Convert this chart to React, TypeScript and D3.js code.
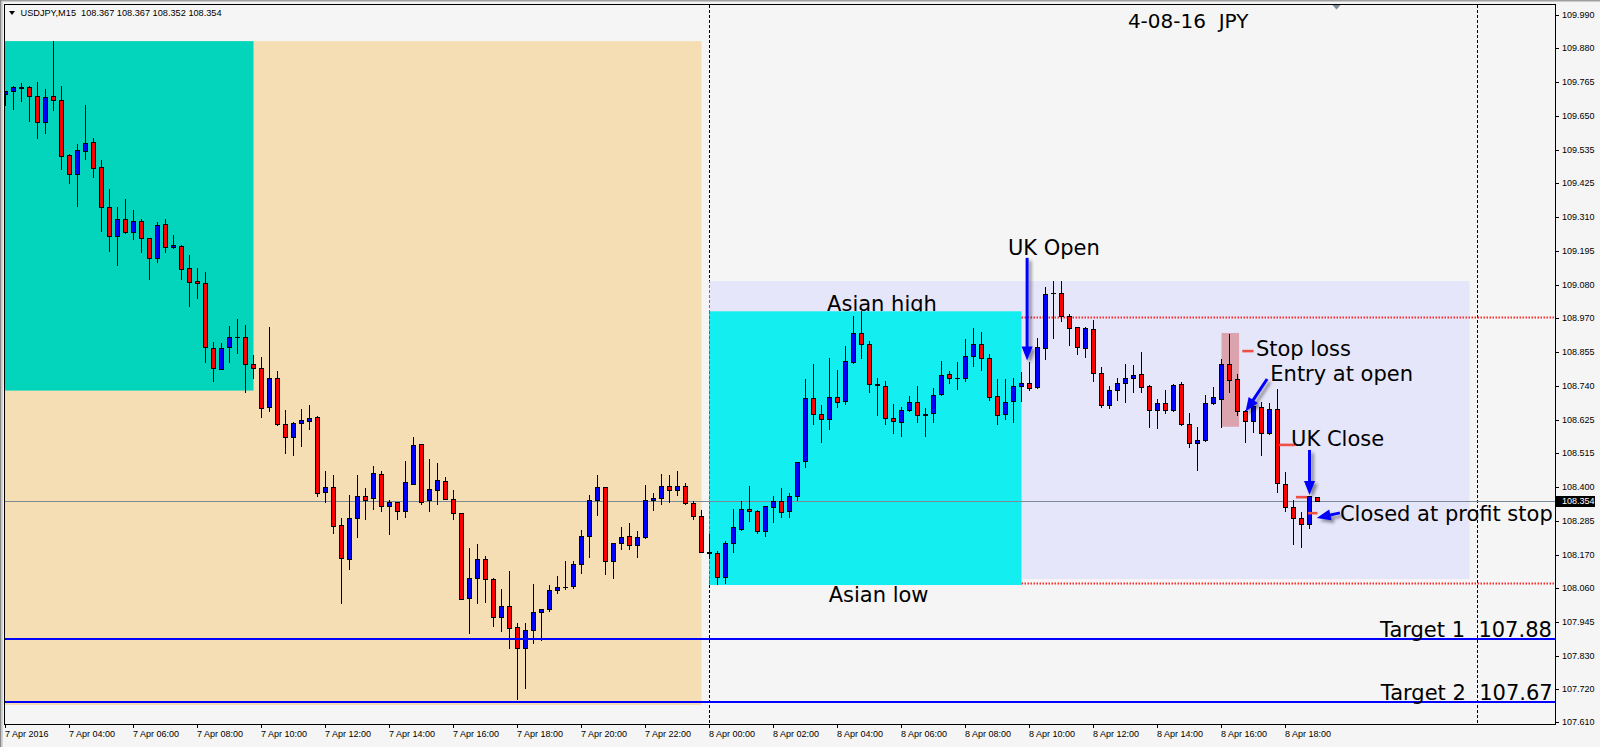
import React from "react";
import * as d3 from "d3";

// ---- data (USDJPY M15, 7 Apr 02:00 .. 8 Apr 19:00) ----
const opens = [109.723,109.733,109.746,109.747,109.716,109.629,109.717,109.703,109.517,109.453,
109.531,109.561,109.477,109.342,109.245,109.302,109.258,109.295,109.238,109.170,
109.285,109.207,109.211,109.137,109.093,109.086,108.867,108.797,108.871,108.904,
108.904,108.813,108.800,108.668,108.766,108.611,108.568,108.615,108.621,108.635,
108.382,108.399,108.271,108.157,108.295,108.369,108.362,108.444,108.335,108.350,
108.318,108.411,108.544,108.358,108.389,108.420,108.359,108.312,108.025,108.093,
108.157,108.089,107.961,107.998,107.928,107.859,107.918,107.978,107.988,108.052,
108.063,108.066,108.140,108.234,108.355,108.399,108.150,108.211,108.234,108.204,
108.231,108.355,108.362,108.403,108.389,108.403,108.345,108.301,108.181,108.177,
108.098,108.211,108.258,108.325,108.318,108.251,108.332,108.352,108.318,108.369,
108.487,108.699,108.645,108.628,108.702,108.689,108.820,108.918,108.881,108.746,
108.739,108.631,108.618,108.658,108.685,108.646,108.648,108.712,108.780,108.767,
108.766,108.840,108.881,108.834,108.706,108.645,108.689,108.739,108.749,108.736,
108.867,109.052,109.053,108.975,108.938,108.867,108.931,108.783,108.675,108.726,
108.749,108.766,108.780,108.739,108.658,108.682,108.658,108.746,108.611,108.547,
108.557,108.682,108.696,108.813,108.763,108.655,108.621,108.669,108.581,108.662,
108.409,108.332,108.295,108.275,108.367];

const highs = [109.735,109.751,109.760,109.751,109.764,109.740,109.902,109.751,109.522,109.554,
109.687,109.576,109.502,109.404,109.343,109.370,109.333,109.302,109.238,109.293,
109.303,109.249,109.215,109.182,109.138,109.123,108.888,108.885,108.943,108.965,
108.945,108.845,108.838,108.940,108.791,108.660,108.619,108.664,108.676,108.639,
108.454,108.441,108.295,108.373,108.441,108.397,108.471,108.455,108.356,108.350,
108.488,108.569,108.544,108.495,108.481,108.435,108.390,108.312,108.195,108.208,
108.168,108.093,108.057,108.117,107.941,107.942,108.074,107.988,108.069,108.101,
108.152,108.152,108.255,108.373,108.441,108.399,108.211,108.264,108.278,108.251,
108.406,108.379,108.444,108.441,108.454,108.414,108.352,108.322,108.243,108.185,
108.218,108.325,108.353,108.402,108.323,108.335,108.369,108.396,108.379,108.483,
108.764,108.813,108.676,108.834,108.794,108.874,108.975,108.992,108.891,108.766,
108.756,108.679,108.669,108.706,108.739,108.665,108.733,108.824,108.790,108.820,
108.898,108.935,108.921,108.847,108.763,108.763,108.766,108.787,108.820,108.901,
109.073,109.095,109.095,108.982,108.938,108.938,108.962,108.803,108.739,108.766,
108.813,108.810,108.854,108.743,108.696,108.726,108.746,108.753,108.648,108.601,
108.709,108.736,108.830,108.914,108.780,108.658,108.685,108.685,108.682,108.729,
108.450,108.355,108.315,108.369,108.367];

const lows = [109.686,109.672,109.701,109.634,109.577,109.594,109.670,109.472,109.425,109.348,
109.506,109.446,109.264,109.196,109.149,109.255,109.237,109.193,109.100,109.159,
109.193,109.204,109.102,109.011,109.038,108.822,108.758,108.797,108.820,108.853,
108.721,108.769,108.637,108.657,108.608,108.516,108.509,108.539,108.596,108.371,
108.351,108.246,108.011,108.125,108.233,108.294,108.327,108.318,108.243,108.292,
108.300,108.409,108.344,108.321,108.342,108.359,108.294,108.022,107.907,108.011,
108.014,107.933,107.916,107.859,107.685,107.724,107.876,107.886,107.982,108.042,
108.056,108.059,108.112,108.166,108.307,108.108,108.092,108.190,108.190,108.163,
108.227,108.324,108.342,108.349,108.372,108.342,108.291,108.180,108.160,108.072,
108.076,108.180,108.254,108.284,108.244,108.236,108.283,108.300,108.300,108.355,
108.466,108.611,108.551,108.597,108.669,108.679,108.817,108.834,108.719,108.642,
108.611,108.581,108.571,108.655,108.618,108.571,108.618,108.709,108.749,108.729,
108.756,108.809,108.793,108.692,108.611,108.628,108.618,108.690,108.726,108.733,
108.830,108.901,108.958,108.877,108.847,108.837,108.756,108.669,108.665,108.692,
108.685,108.719,108.719,108.601,108.598,108.648,108.655,108.608,108.534,108.456,
108.554,108.679,108.603,108.719,108.642,108.551,108.584,108.507,108.578,108.382,
108.318,108.207,108.197,108.261,108.352];

const closes = [109.733,109.747,109.744,109.716,109.629,109.713,109.703,109.516,109.453,109.534,
109.558,109.474,109.342,109.245,109.302,109.258,109.295,109.238,109.170,109.282,
109.207,109.214,109.133,109.090,109.086,108.871,108.800,108.867,108.904,108.904,
108.813,108.800,108.665,108.766,108.611,108.568,108.615,108.625,108.633,108.379,
108.399,108.268,108.160,108.295,108.369,108.358,108.447,108.335,108.350,108.318,
108.416,108.541,108.351,108.392,108.423,108.361,108.312,108.022,108.093,108.157,
108.089,107.961,107.998,107.924,107.859,107.918,107.978,107.988,108.052,108.062,
108.065,108.140,108.234,108.355,108.399,108.150,108.211,108.231,108.204,108.231,
108.355,108.362,108.403,108.389,108.403,108.345,108.302,108.180,108.179,108.098,
108.211,108.264,108.325,108.318,108.251,108.335,108.352,108.315,108.369,108.483,
108.699,108.645,108.628,108.702,108.685,108.823,108.918,108.881,108.746,108.744,
108.631,108.621,108.658,108.685,108.642,108.644,108.709,108.776,108.766,108.766,
108.840,108.881,108.834,108.702,108.642,108.685,108.739,108.749,108.733,108.871,
109.049,109.052,108.975,108.935,108.871,108.935,108.783,108.675,108.726,108.749,
108.766,108.776,108.736,108.658,108.682,108.658,108.743,108.611,108.547,108.557,
108.682,108.702,108.813,108.760,108.655,108.621,108.672,108.581,108.662,108.413,
108.332,108.295,108.275,108.369,108.354];

const timeLabels = ["7 Apr 2016","7 Apr 04:00","7 Apr 06:00","7 Apr 08:00","7 Apr 10:00","7 Apr 12:00",
"7 Apr 14:00","7 Apr 16:00","7 Apr 18:00","7 Apr 20:00","7 Apr 22:00","8 Apr 00:00","8 Apr 02:00",
"8 Apr 04:00","8 Apr 06:00","8 Apr 08:00","8 Apr 10:00","8 Apr 12:00","8 Apr 14:00","8 Apr 16:00","8 Apr 18:00"];
const timeLabelBars = timeLabels.map((_, k) => k * 8);

const priceTicks = [109.990,109.880,109.765,109.650,109.535,109.425,109.310,109.195,109.080,108.970,
108.855,108.740,108.625,108.515,108.400,108.285,108.170,108.060,107.945,107.830,107.720,107.610];

const separatorBars = [88, 184];
const lastPrice = 108.354;
const target1 = 107.887;
const target2 = 107.677;
const asianHighLine = 108.974;
const asianLowLine = 108.078;

// boxes: [bar1, bar2, priceTop, priceBottom]
const tealBox = [-2, 31, 109.902, 108.725];
const wheatBox = [-2, 87, 109.902, 107.666];
const lavenderBox = [88, 183, 109.094, 108.090];
const cyanBox = [88, 127, 108.992, 108.070];
const stopZone = [152, 154.2, 108.919, 108.603];

const labelTexts = [
  { t: "UK Open", b: 125.3, p: 109.182 },
  { t: "Stop loss", b: 156.3, p: 108.841 },
  { t: "Entry at open", b: 158.1, p: 108.757 },
  { t: "UK Close", b: 160.7, p: 108.539 },
  { t: "Closed at profit stop", b: 166.8, p: 108.286 },
  { t: "Asian low", b: 102.9, p: 108.013 },
];
const endTexts = [
  { t: "Target 1  107.88", b: 193.3, p: 107.895 },
  { t: "Target 2  107.67", b: 193.4, p: 107.684 },
];
const arrows = [
  { b1: 127.7, p1: 109.172, b2: 127.7, p2: 108.826 },
  { b1: 157.7, p1: 108.764, b2: 155.0, p2: 108.654 },
  { b1: 163.0, p1: 108.525, b2: 163.0, p2: 108.373 },
  { b1: 166.8, p1: 108.313, b2: 163.9, p2: 108.296 },
];
const redDashes = [
  { b1: 154.6, b2: 156.0, p: 108.858 },
  { b1: 159.2, b2: 161.2, p: 108.542 },
  { b1: 161.3, b2: 162.7, p: 108.366 },
  { b1: 162.8, b2: 164.0, p: 108.312 },
];

const SMALL = "'Liberation Sans', Arial, sans-serif";
const BIG = "'DejaVu Sans', Verdana, sans-serif";

export default function App() {
  const L = 5, R = 1555, T = 5, B = 724;
  const x = d3.scaleLinear().domain([0, 164]).range([5.5, 5.5 + 8 * 164]);
  const y = d3.scaleLinear().domain([107.61, 109.99]).range([721.6, 15]);
  const cr = (v: number) => Math.round(v) + 0.5;

  const box = (bx: number[], fill: string) => {
    const x1 = Math.max(L, x(bx[0]));
    const x2 = Math.min(R, x(bx[1]));
    return <rect x={x1} y={y(bx[2])} width={x2 - x1} height={y(bx[3]) - y(bx[2])} fill={fill} />;
  };

  const arrow = (a: any, i: number) => {
    const x1 = x(a.b1), y1 = y(a.p1), x2 = x(a.b2), y2 = y(a.p2);
    const ang = Math.atan2(y2 - y1, x2 - x1);
    const hl = 14, hw = 5.5;
    const bx = x2 - hl * Math.cos(ang), by = y2 - hl * Math.sin(ang);
    const px = -Math.sin(ang), py = Math.cos(ang);
    const pts = `${x2},${y2} ${bx + px * hw},${by + py * hw} ${bx - px * hw},${by - py * hw}`;
    return (
      <g key={i} filter="url(#shadow)">
        <line x1={x1} y1={y1} x2={bx + Math.cos(ang) * 2} y2={by + Math.sin(ang) * 2} stroke="#0000ff" strokeWidth={3} />
        <polygon points={pts} fill="#0000ff" />
      </g>
    );
  };

  return (
    <svg width={1600} height={747} style={{ position: "absolute", left: 0, top: 0, display: "block" }}>
      <defs>
        <clipPath id="plot"><rect x={L} y={T} width={R - L} height={B - T} /></clipPath>
        <filter id="shadow" x="-50%" y="-50%" width="200%" height="200%">
          <feDropShadow dx="3" dy="3" stdDeviation="1.6" floodColor="#000" floodOpacity="0.4" />
        </filter>
        <filter id="blur" x="-5%" y="-200%" width="110%" height="500%">
          <feGaussianBlur stdDeviation="1.3" />
        </filter>
      </defs>
      <rect x={0} y={0} width={1600} height={747} fill="#f5f5f5" />
      <rect x={0} y={0} width={1600} height={1.5} fill="#a0a0a0" />
      <rect x={0} y={0} width={1.5} height={747} fill="#888" />
      <rect x={1.5} y={1.5} width={1.5} height={745} fill="#d4d4d4" />

      {/* header */}
      <polygon points="9,11 15,11 12,15" fill="#000" />
      <text x={20.5} y={15.8} fontFamily={SMALL} fontSize={9.2} fill="#000" style={{ whiteSpace: "pre" }}>
        {"USDJPY,M15  108.367 108.367 108.352 108.354"}
      </text>

      <g clipPath="url(#plot)">
        {/* period separators */}
        {separatorBars.map((b) => (
          <line key={b} x1={x(b)} x2={x(b)} y1={T} y2={B} stroke="#000" strokeDasharray="3 2" />
        ))}
        {box(wheatBox, "#f5deb3")}
        {box(tealBox, "#03d4bc")}
        {box(lavenderBox, "#e6e6fa")}
        <text x={x(102.7)} y={y(108.992)} fontFamily={BIG} fontSize={21} fill="#000">Asian high</text>
        {box(cyanBox, "#13eef0")}
        <line x1={x(88)} x2={x(88)} y1={y(cyanBox[2])} y2={y(cyanBox[3])} stroke="#ff2020" strokeDasharray="3 2" />
        {box(stopZone, "#dba3ad")}

        {/* asian range lines with shadow */}
        {[asianHighLine, asianLowLine].map((p) => (
          <g key={p}>
            <line x1={x(127)} x2={R} y1={y(p) + 3} y2={y(p) + 3} stroke="#9a9a9a" strokeWidth={3} opacity={0.45} filter="url(#blur)" />
            <line x1={x(127)} x2={R} y1={cr(y(p))} y2={cr(y(p))} stroke="#ff2a2a" strokeWidth={2} strokeDasharray="1.5 1.5" />
          </g>
        ))}

        {/* target lines and current price */}
        <line x1={L} x2={R} y1={cr(y(lastPrice))} y2={cr(y(lastPrice))} stroke="#7b8a99" strokeWidth={1} />

        {/* candles */}
        {opens.map((o, i) => {
          const c = closes[i];
          const cx = x(i);
          const top = cr(y(Math.max(o, c)));
          const bot = cr(y(Math.min(o, c)));
          const fill = c > o ? "#0000ff" : "#ff0000";
          return (
            <g key={i}>
              <line x1={cx} x2={cx} y1={Math.round(y(highs[i]))} y2={Math.round(y(lows[i])) + 1} stroke="#000" />
              {bot - top < 1 ? (
                <line x1={cx - 2.5} x2={cx + 2.5} y1={top} y2={top} stroke="#000" />
              ) : (
                <rect x={cx - 2} y={top} width={4} height={bot - top} fill={fill} stroke="#000" />
              )}
            </g>
          );
        })}

        {[target1, target2].map((p) => (
          <line key={p} x1={L} x2={R} y1={Math.round(y(p))} y2={Math.round(y(p))} stroke="#0000ff" strokeWidth={2} />
        ))}

        {/* annotations */}
        {redDashes.map((d, i) => (
          <line key={i} x1={x(d.b1)} x2={x(d.b2)} y1={y(d.p)} y2={y(d.p)} stroke="#ee5046" strokeWidth={2.6} />
        ))}
        {labelTexts.map((d) => (
          <text key={d.t} x={x(d.b)} y={y(d.p)} fontFamily={BIG} fontSize={21} fill="#000">{d.t}</text>
        ))}
        {endTexts.map((d) => (
          <text key={d.t} x={x(d.b)} y={y(d.p)} fontFamily={BIG} fontSize={21} fill="#000" textAnchor="end" style={{ whiteSpace: "pre" }}>{d.t}</text>
        ))}
        <text x={x(140.3)} y={y(109.945)} fontFamily={BIG} fontSize={20} fill="#000" style={{ whiteSpace: "pre" }}>{"4-08-16  JPY"}</text>
        {arrows.map(arrow)}
      </g>

      {/* shift marker */}
      <polygon points="1332,4.5 1341,4.5 1336.5,9.5" fill="#7f8c99" />

      {/* frame */}
      <rect x={4.5} y={4.5} width={R - 4} height={B - 4} fill="none" stroke="#000" />

      {/* price axis */}
      {priceTicks.map((t) => (
        <g key={t}>
          <line x1={R + 1} x2={R + 4} y1={cr(y(t))} y2={cr(y(t))} stroke="#000" />
          <text x={1562} y={y(t)} dy="0.35em" fontFamily={SMALL} fontSize={9} fill="#000">{t.toFixed(3)}</text>
        </g>
      ))}
      <rect x={1556} y={cr(y(lastPrice)) - 5.5} width={39} height={11} fill="#000" />
      <text x={1562} y={y(lastPrice)} dy="0.35em" fontFamily={SMALL} fontSize={9} fill="#fff">{lastPrice.toFixed(3)}</text>

      {/* time axis */}
      {timeLabelBars.map((b, k) => (
        <g key={b}>
          <line x1={x(b)} x2={x(b)} y1={B + 1} y2={B + 4} stroke="#000" />
          <text x={x(b) - 0.5} y={737} fontFamily={SMALL} fontSize={9} fill="#000">{timeLabels[k]}</text>
        </g>
      ))}
    </svg>
  );
}
